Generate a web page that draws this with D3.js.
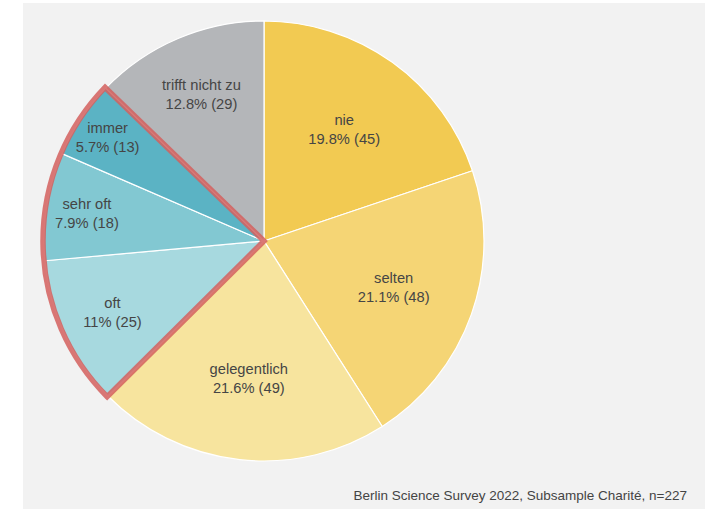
<!DOCTYPE html>
<html><head><meta charset="utf-8">
<script src="https://cdn.jsdelivr.net/npm/d3@7"></script>
<style>html,body{margin:0;padding:0;background:#fff;}svg{display:block;}</style>
</head><body>
<svg id="c" width="711" height="509"></svg>
<script>
const categories = ["nie","selten","gelegentlich","oft","sehr oft","immer","trifft nicht zu"];
const counts = [45,48,49,25,18,13,29];
const percentLabels = ["19.8%","21.1%","21.6%","11%","7.9%","5.7%","12.8%"];
const colors = ["#f2ca52","#f5d575","#f7e49e","#a7d9df","#82c8d2","#5bb3c4","#b4b6b9"];
const highlighted = ["oft","sehr oft","immer"];
const caption = "Berlin Science Survey 2022, Subsample Charité, n=227";

const svg = d3.select("#c");
svg.append("rect").attr("x",23).attr("y",3).attr("width",682).attr("height",506).attr("fill","#f2f2f2");

const cx = 264, cy = 241, R = 220;
const g = svg.append("g").attr("transform",`translate(${cx},${cy})`);
const data = categories.map((c,i)=>({cat:c,value:counts[i],pct:percentLabels[i],color:colors[i]}));
const total = d3.sum(counts);
const pie = d3.pie().value(d=>d.value).sort(null);
const arcs = pie(data);
const arc = d3.arc().innerRadius(0).outerRadius(R);

g.selectAll("path.slice").data(arcs).enter().append("path")
  .attr("class","slice").attr("d",arc).attr("fill",d=>d.data.color)
  .attr("stroke","#ffffff").attr("stroke-width",1.2).attr("stroke-linejoin","round");

// highlight outline
const hl = arcs.filter(a=>highlighted.includes(a.data.cat));
const a0 = d3.min(hl,a=>a.startAngle), a1 = d3.max(hl,a=>a.endAngle);
g.append("path").attr("d",d3.arc().innerRadius(0).outerRadius(R+1)({startAngle:a0,endAngle:a1}))
  .attr("fill","none").attr("stroke","#d4605e").attr("stroke-opacity",0.85)
  .attr("stroke-width",5.5).attr("stroke-linejoin","miter");

// labels
const labels = g.selectAll("text.lbl").data(arcs).enter().append("text")
  .attr("class","lbl")
  .attr("font-family","Liberation Sans, Arial, sans-serif").attr("font-size","14.7px")
  .attr("fill","#454545").attr("text-anchor","middle")
  .attr("transform",d=>{
    const f = d.data.value/total;
    const r = R*Math.max(0.625, 0.957 - 1.79*f);
    const m = (d.startAngle+d.endAngle)/2;
    return `translate(${r*Math.sin(m)},${-r*Math.cos(m)})`;
  });
labels.append("tspan").attr("x",0).attr("y",-4).text(d=>d.data.cat);
labels.append("tspan").attr("x",0).attr("y",15).text(d=>`${d.data.pct} (${d.data.value})`);

svg.append("text").attr("x",687).attr("y",500).attr("text-anchor","end")
  .attr("font-family","Liberation Sans, Arial, sans-serif").attr("font-size","13.5px")
  .attr("fill","#444").text(caption);
</script>
</body></html>
